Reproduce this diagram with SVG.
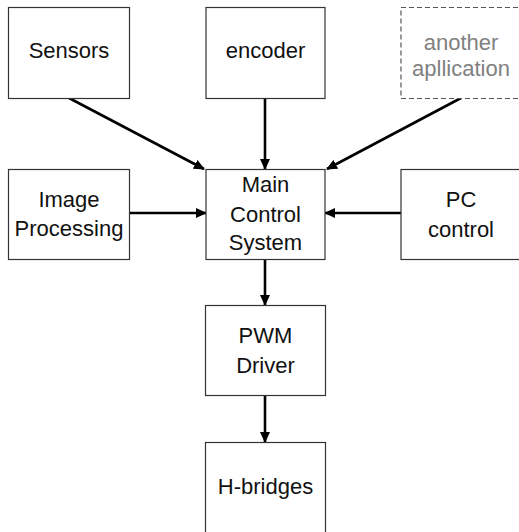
<svg xmlns="http://www.w3.org/2000/svg" width="519" height="532" viewBox="0 0 519 532">
<defs>
<style>
.box{fill:#fff;stroke:#333;stroke-width:1.2}
.dash{fill:#fff;stroke:#555;stroke-width:1.2;stroke-dasharray:5 3}
.t{font-family:"Liberation Sans",Arial,sans-serif;font-size:22px;fill:#111;text-anchor:middle}
.g{fill:#808080}
.c{stroke:#000;stroke-width:2.6;fill:none;marker-end:url(#ah)}
</style>
<marker id="ah" markerWidth="11" markerHeight="10" refX="10" refY="5" orient="auto" markerUnits="userSpaceOnUse">
<path d="M0,0 L11,5 L0,10 z" fill="#000"/>
</marker>
</defs>
<rect width="519" height="532" fill="#fff"/>
<g id="connectors">
<line class="c" x1="69" y1="98" x2="204" y2="169"/>
<line class="c" x1="265" y1="98" x2="265" y2="169"/>
<line class="c" x1="461" y1="98" x2="327" y2="169"/>
<line class="c" x1="129" y1="213" x2="206" y2="213"/>
<line class="c" x1="401" y1="213" x2="325" y2="213"/>
<line class="c" x1="265" y1="260" x2="265" y2="305"/>
<line class="c" x1="265" y1="396" x2="265" y2="442"/>
</g>
<g id="sensors"><rect class="box" x="8.5" y="7.5" width="121" height="91"/><text class="t" x="69" y="58">Sensors</text></g>
<g id="encoder"><rect class="box" x="206" y="7.5" width="119" height="91"/><text class="t" x="265.5" y="58">encoder</text></g>
<g id="another"><rect class="dash" x="401" y="7.5" width="125" height="91"/><text class="t g" x="461" y="50">another</text><text class="t g" x="461" y="76">apllication</text></g>
<g id="image"><rect class="box" x="8.5" y="169.5" width="121" height="90"/><text class="t" x="69" y="207">Image</text><text class="t" x="69" y="236">Processing</text></g>
<g id="main"><rect class="box" x="206" y="169.5" width="119" height="90"/><text class="t" x="265.5" y="192">Main</text><text class="t" x="265.5" y="222">Control</text><text class="t" x="265.5" y="250">System</text></g>
<g id="pc"><rect class="box" x="401" y="169.5" width="125" height="90"/><text class="t" x="461" y="207">PC</text><text class="t" x="461" y="237">control</text></g>
<g id="pwm"><rect class="box" x="205.5" y="305.5" width="120" height="90"/><text class="t" x="265.5" y="343">PWM</text><text class="t" x="265.5" y="373">Driver</text></g>
<g id="hbridges"><rect class="box" x="205.5" y="442.5" width="120" height="92"/><text class="t" x="265.5" y="494">H-bridges</text></g>
</svg>
